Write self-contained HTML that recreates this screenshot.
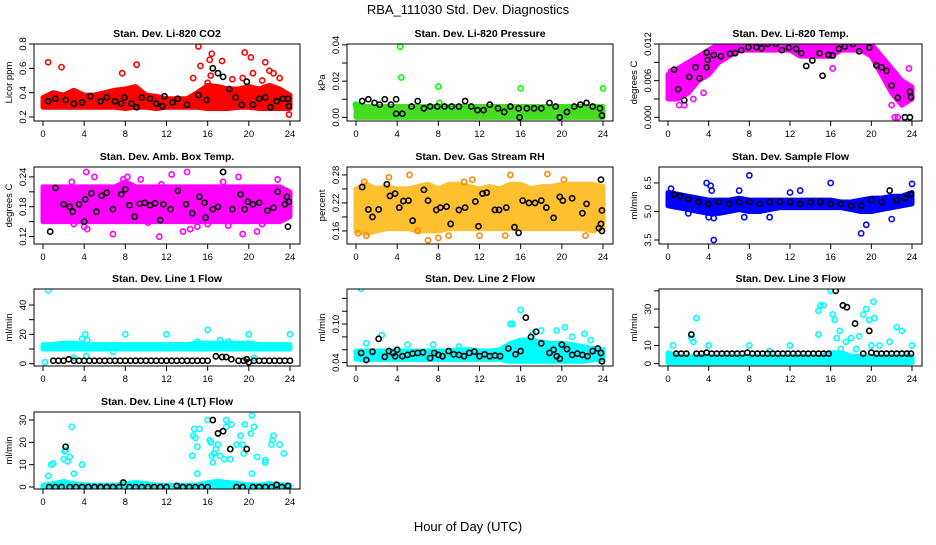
<!DOCTYPE html>
<html><head><meta charset="utf-8"><style>
body{margin:0;background:#fff;}
svg text{font-family:"Liberation Sans",sans-serif;}
</style></head><body>
<svg id="c" width="936" height="540" xmlns="http://www.w3.org/2000/svg">
<text x="468" y="14" text-anchor="middle" font-size="13">RBA_111030  Std. Dev. Diagnostics</text>
<text x="468" y="531" text-anchor="middle" font-size="13">Hour of Day (UTC)</text>
</svg>
<script>
const hours = [0,1,2,3,4,5,6,7,8,9,10,11,12,13,14,15,16,17,18,19,20,21,22,23,24];
const xTicks = [0,4,8,12,16,20,24];

// P1 CO2
const co2BandLo = [0.28,0.28,0.28,0.28,0.28,0.28,0.28,0.28,0.27,0.28,0.28,0.27,0.28,0.28,0.28,0.28,0.27,0.27,0.27,0.28,0.28,0.27,0.27,0.27,0.27];
const co2BandHi = [0.36,0.40,0.38,0.42,0.38,0.38,0.40,0.42,0.43,0.45,0.38,0.37,0.35,0.35,0.35,0.40,0.46,0.45,0.43,0.43,0.45,0.43,0.46,0.43,0.38];
const co2Out = [[0.5,0.65],[1.8,0.61],[7.7,0.56],[9.1,0.63],[15.1,0.78],[15.3,0.62],[16.2,0.67],[16.4,0.72],[17.4,0.66],[19.6,0.73],[20.2,0.69],[20.4,0.56],[21.6,0.65],[22.0,0.58],[22.4,0.56],[23.0,0.52],[23.9,0.22],[16.0,0.48],[16.3,0.54],[14.6,0.52],[18.4,0.51],[19.4,0.52],[21.3,0.5]];
const co2Black = [[0.5,0.33],[1.2,0.35],[2.2,0.34],[3.0,0.31],[3.8,0.32],[4.6,0.37],[5.6,0.33],[6.2,0.36],[7.0,0.33],[7.6,0.31],[7.9,0.36],[8.6,0.31],[9.1,0.28],[9.6,0.36],[10.4,0.35],[11.0,0.31],[11.6,0.29],[11.8,0.37],[12.6,0.32],[13.1,0.35],[14.0,0.30],[15.1,0.38],[15.9,0.34],[16.5,0.6],[17.0,0.56],[17.5,0.53],[18.1,0.43],[18.7,0.36],[19.3,0.30],[19.8,0.49],[20.4,0.30],[21.0,0.35],[21.6,0.36],[22.1,0.28],[22.7,0.33],[23.3,0.35],[23.8,0.35],[23.9,0.29]];
// P2 pressure
const presBandLo = [0,0,0,0,0,0,0,0,0,0,0,0,0,0,0,0,0,0,0,0,0,0,0,0,0];
const presBandHi = [0.007,0.006,0.006,0.006,0.006,0.006,0.006,0.006,0.006,0.006,0.006,0.006,0.006,0.006,0.006,0.006,0.006,0.006,0.006,0.006,0.006,0.006,0.006,0.006,0.006];
const presOut = [[4.3,0.039],[4.4,0.022],[8.0,0.017],[16.0,0.016],[24,0.016],[0,0.007],[8.1,0.008]];
const presBlack = [[0.6,0.009],[1.2,0.010],[1.8,0.008],[2.3,0.007],[2.8,0.010],[3.4,0.007],[3.9,0.010],[3.9,0.002],[4.5,0.002],[5.4,0.006],[6.0,0.009],[6.6,0.005],[7.2,0.006],[7.9,0.006],[8.6,0.006],[9.3,0.006],[10.0,0.006],[10.6,0.009],[11.2,0.006],[11.8,0.004],[12.4,0.004],[13.0,0.007],[13.8,0.005],[14.4,0.003],[15.0,0.006],[15.8,0.005],[15.9,0.000],[16.6,0.005],[17.3,0.005],[18.0,0.005],[18.8,0.008],[19.4,0.006],[19.8,0.000],[20.5,0.003],[21.2,0.006],[21.8,0.007],[22.4,0.008],[23.0,0.006],[23.7,0.005],[23.9,0.001]];
// P3 Li-820 temp
const tempBandLo = [0.003,0.003,0.004,0.006,0.007,0.009,0.010,0.011,0.011,0.011,0.011,0.011,0.011,0.010,0.010,0.010,0.010,0.011,0.011,0.011,0.010,0.007,0.004,0.002,0.003];
const tempBandHi = [0.007,0.008,0.009,0.010,0.011,0.012,0.012,0.012,0.012,0.012,0.012,0.012,0.012,0.012,0.012,0.012,0.012,0.012,0.012,0.012,0.012,0.010,0.008,0.006,0.005];
const tempOut = [[1.1,0.002],[1.6,0.002],[2.5,0.003],[3.5,0.004],[16.2,0.008],[22.3,0.0],[22.6,0.0],[23.7,0.008],[22.0,0.002],[23.3,0.004],[0.3,0.0075]];
const tempBlack = [[0.6,0.0078],[1.0,0.0046],[1.6,0.0028],[2.1,0.0066],[2.7,0.0082],[3.1,0.0064],[3.8,0.0106],[3.9,0.0094],[3.8,0.0082],[4.5,0.0102],[5.2,0.010],[6.1,0.0104],[6.6,0.0105],[7.2,0.011],[7.9,0.0115],[8.7,0.0115],[9.2,0.0113],[9.8,0.012],[10.6,0.012],[11.2,0.011],[11.9,0.0114],[12.6,0.0112],[13.1,0.0105],[13.6,0.0084],[14.2,0.0093],[14.9,0.0105],[15.2,0.0068],[15.8,0.0102],[16.2,0.0101],[16.8,0.0112],[17.4,0.0116],[18.2,0.012],[18.8,0.0108],[19.8,0.0114],[20.5,0.0085],[21.0,0.0082],[21.5,0.0076],[22.0,0.0052],[22.6,0.0032],[23.3,0.0],[23.8,0.0],[23.8,0.0042],[23.9,0.0033]];
// P4 amb box temp
const ambBandLo = [0.15,0.15,0.15,0.15,0.15,0.15,0.15,0.15,0.15,0.15,0.15,0.15,0.15,0.15,0.15,0.15,0.15,0.15,0.15,0.15,0.15,0.15,0.15,0.15,0.16];
const ambBandHi = [0.22,0.22,0.22,0.22,0.22,0.22,0.22,0.22,0.23,0.22,0.22,0.22,0.22,0.22,0.22,0.22,0.22,0.22,0.22,0.22,0.22,0.22,0.22,0.22,0.21];
const ambOut = [[0.3,0.205],[1.2,0.21],[2.8,0.23],[4.2,0.25],[4.3,0.135],[4.0,0.14],[6.8,0.125],[7.8,0.235],[8.2,0.24],[9.5,0.235],[11.3,0.12],[11.5,0.225],[12.5,0.245],[13.6,0.13],[14.3,0.135],[15.0,0.14],[17.5,0.23],[19.0,0.24],[19.4,0.125],[20.8,0.13],[22.8,0.235],[21.3,0.145],[3.0,0.145],[10.2,0.148],[16.0,0.145],[18.0,0.142],[5.0,0.24],[14.0,0.25]];
const ambBlack = [[0.7,0.13],[1.2,0.218],[2.0,0.185],[2.6,0.18],[2.9,0.17],[3.5,0.185],[4.0,0.15],[4.1,0.195],[4.7,0.207],[5.2,0.17],[5.7,0.202],[6.2,0.208],[6.8,0.175],[7.6,0.205],[8.0,0.215],[8.4,0.183],[8.9,0.16],[9.4,0.186],[9.9,0.188],[10.4,0.183],[10.9,0.187],[11.4,0.153],[11.7,0.185],[12.4,0.175],[13.1,0.212],[13.9,0.185],[14.5,0.167],[15.2,0.2],[15.7,0.188],[15.8,0.158],[16.5,0.175],[17.0,0.18],[17.5,0.25],[18.4,0.175],[19.2,0.205],[19.6,0.175],[19.9,0.19],[20.4,0.185],[21.0,0.188],[21.8,0.172],[22.4,0.178],[22.8,0.21],[23.5,0.185],[23.7,0.2],[23.8,0.14],[23.9,0.19]];
// P5 RH
const rhBandLo = [0.16,0.155,0.16,0.165,0.165,0.165,0.16,0.16,0.16,0.165,0.165,0.165,0.165,0.165,0.165,0.165,0.165,0.165,0.165,0.165,0.165,0.165,0.165,0.16,0.165];
const rhBandHi = [0.25,0.26,0.25,0.255,0.25,0.25,0.255,0.26,0.25,0.26,0.26,0.255,0.25,0.255,0.25,0.26,0.26,0.25,0.255,0.255,0.26,0.26,0.26,0.26,0.255];
const rhOut = [[0.2,0.155],[1.0,0.15],[3.2,0.275],[5.2,0.28],[7.0,0.14],[8.0,0.145],[9.0,0.15],[10.5,0.265],[11.3,0.27],[15.0,0.28],[18.6,0.282],[20.2,0.27],[12.0,0.15],[14.5,0.15],[22.3,0.15],[6.0,0.16],[0.8,0.265]];
const rhBlack = [[0.6,0.254],[1.2,0.206],[1.6,0.19],[2.2,0.206],[3.0,0.26],[3.3,0.235],[3.8,0.24],[4.2,0.21],[4.6,0.224],[5.1,0.225],[5.5,0.182],[6.6,0.248],[7.0,0.225],[7.8,0.205],[8.2,0.21],[8.8,0.212],[9.2,0.175],[10.0,0.205],[10.6,0.21],[11.6,0.223],[11.9,0.17],[12.3,0.24],[12.7,0.242],[13.5,0.205],[13.9,0.205],[14.6,0.21],[15.4,0.168],[15.8,0.156],[16.2,0.225],[16.8,0.22],[17.4,0.22],[18.0,0.225],[18.5,0.21],[19.2,0.188],[19.8,0.233],[20.1,0.225],[21.0,0.23],[22.0,0.198],[22.4,0.218],[23.6,0.166],[23.9,0.16],[23.8,0.27],[23.9,0.204],[23.8,0.175]];
// P6 sample flow
const sfBandLo = [5.3,5.2,5.1,5.0,4.9,4.9,5.0,5.1,5.0,5.0,5.1,5.2,5.2,5.2,5.2,5.2,5.2,5.2,5.1,5.0,5.0,5.1,5.2,5.3,5.4];
const sfBandHi = [6.0,5.9,5.8,5.7,5.6,5.6,5.6,5.7,5.6,5.6,5.6,5.6,5.6,5.6,5.6,5.6,5.6,5.5,5.5,5.6,5.7,5.7,5.8,5.8,6.0];
const sfOut = [[0.3,6.2],[3.8,6.5],[4.2,6.35],[4.3,6.1],[4.5,3.5],[7.0,6.1],[8.0,6.9],[16.0,6.5],[24,6.45],[19.0,3.85],[19.5,4.3],[4.0,4.7],[4.5,4.65],[7.5,4.7],[2.0,4.9],[22.0,4.6],[12.0,6.0],[13.0,6.1],[10.0,4.7]];
const sfBlack = [[0.6,5.9],[1.2,5.8],[2.0,5.65],[3.0,5.5],[4.0,5.4],[5.0,5.5],[6.0,5.4],[7.0,5.5],[8.0,5.5],[9.0,5.4],[10.0,5.5],[11.0,5.5],[12.0,5.5],[13.0,5.4],[14.0,5.5],[15.0,5.5],[16.0,5.4],[17.0,5.4],[18.0,5.3],[19.0,5.3],[20.0,5.6],[21.0,5.5],[21.8,6.1],[22.5,5.6],[23.3,5.7],[23.9,5.9]];
// P7 line 1
const l1BandLo = [10,10,10,10,10,10,10,10,10,10,10,10,10,10,10,10,10,10,10,10,10,10,10,10,10];
const l1BandHi = [13,13,14,14,13,13,13,13,13,13,13,13,13,13,13,14,14,14,14,14,14,13,13,13,13];
const l1Out = [[0.5,50],[3.8,17],[4.1,20],[4.3,16],[8,20],[12,20],[16,23],[17.2,16],[20,20],[24,20],[4.2,5],[3.0,4],[6.8,8],[15.0,15],[18,15],[20.5,4],[0.2,1]];
const l1Black = [[1,2],[1.5,2],[2,2],[2.5,3],[3,2],[3.5,2],[4,2],[4.5,2],[5,2],[5.5,2],[6,2],[6.5,2],[7,2],[7.5,2],[8,2],[8.5,2],[9,2],[9.5,2],[10,2],[10.5,2],[11,2],[11.5,2],[12,2],[12.5,2],[13,2],[13.5,2],[14,2],[14.5,2],[15,2],[15.5,2],[16,2],[16.8,5],[17.4,4.5],[17.8,4.5],[18.3,3],[19,2],[19.5,2],[19.8,3],[20,1],[20.5,2],[21,2],[21.5,2],[22,2],[22.5,2],[23,2],[23.5,2],[24,2]];
// P8 line 2
const l2BandLo = [0.045,0.045,0.045,0.045,0.045,0.045,0.045,0.045,0.045,0.045,0.045,0.045,0.045,0.045,0.045,0.042,0.042,0.042,0.042,0.042,0.042,0.042,0.042,0.044,0.045];
const l2BandHi = [0.058,0.058,0.058,0.058,0.058,0.058,0.058,0.058,0.058,0.058,0.060,0.060,0.058,0.058,0.060,0.070,0.075,0.075,0.072,0.070,0.070,0.068,0.065,0.062,0.060];
const l2Out = [[0.5,0.155],[2.5,0.083],[15.0,0.1],[15.2,0.1],[16.0,0.122],[17.2,0.085],[18.0,0.09],[19.5,0.09],[20.3,0.095],[21.0,0.08],[22.2,0.085],[22.8,0.075],[1.0,0.07],[5.0,0.068],[7.5,0.068],[10.0,0.065]];
const l2Black = [[0.5,0.055],[1.0,0.044],[1.6,0.057],[2.2,0.077],[2.8,0.049],[3.2,0.058],[3.6,0.055],[3.8,0.05],[4.0,0.06],[4.5,0.05],[5.0,0.052],[5.5,0.054],[6.0,0.055],[6.5,0.056],[7.2,0.047],[7.6,0.055],[8.0,0.052],[8.4,0.05],[9.0,0.058],[9.5,0.053],[10.0,0.052],[10.5,0.05],[11.0,0.055],[11.5,0.057],[12.0,0.05],[12.5,0.053],[13.0,0.05],[13.5,0.051],[14.0,0.05],[14.8,0.062],[15.5,0.053],[16.0,0.058],[16.5,0.11],[17.0,0.08],[17.5,0.088],[18.0,0.07],[18.8,0.055],[19.2,0.06],[19.5,0.05],[19.8,0.046],[20.0,0.068],[20.5,0.061],[21.0,0.052],[21.5,0.054],[22.0,0.052],[22.5,0.05],[23.0,0.058],[23.5,0.062],[23.8,0.055],[23.9,0.042]];
// P9 line 3
const l3BandLo = [0.5,0.5,0.5,0.5,0.5,0.5,0.5,0.5,0.5,0.5,0.5,0.5,0.5,0.5,0.5,0.5,0.5,0.5,0.5,0.5,0.5,0.5,0.5,0.5,0.5];
const l3BandHi = [6,4,4,4,4,4,4,4,4,4,4,4,4,4,4,4,6,6,4,4,4,4,4,4,4];
const l3Out = [[0.5,10],[2.3,14],[2.5,12],[2.8,25],[4.0,10],[8.0,10],[12.0,10],[14.8,16],[14.8,29],[15.0,32],[15.3,32],[16.0,40],[16.2,27],[16.4,24],[16.6,14],[16.9,18],[17.0,8],[17.5,12],[18.0,14],[18.5,8],[18.8,15],[19.2,27],[19.5,30],[19.8,24],[20.0,10],[20.2,34],[20.3,25],[20.8,10],[21.8,12],[22.5,20],[23.0,18],[24,10],[3.5,4],[10,7]];
const l3Black = [[0.8,5.5],[1.3,5.5],[1.8,5.5],[2.3,16],[2.8,5.5],[3.3,5.5],[3.8,6],[4.3,5.5],[4.8,5.5],[5.3,5.5],[5.8,5.5],[6.3,5.5],[6.8,5.5],[7.3,5.5],[7.8,6],[8.3,5.5],[8.8,5.5],[9.3,5.5],[9.8,5.5],[10.3,5.5],[10.8,5.5],[11.3,5.5],[11.8,5.5],[12.3,5.5],[12.8,5.5],[13.3,5.5],[13.8,5.5],[14.3,5.5],[14.8,5.5],[15.3,5.5],[15.8,5.5],[16.5,40],[17.2,32],[17.6,31],[18.4,22],[19.8,18],[19.2,5.5],[20.0,6],[20.5,5.5],[21.0,5.5],[21.5,5.5],[22.0,5.5],[22.5,5.5],[23.0,5.5],[23.5,5.5],[23.9,5.5]];
// P10 line 4 (LT)
const l4BandLo = [-0.5,-0.5,-0.5,-0.5,-0.5,-0.5,-0.5,-0.5,-0.5,-0.5,-0.5,-0.5,-0.5,-0.5,-0.5,-0.5,-0.5,-0.5,-0.5,-0.5,-0.5,-0.5,-0.5,-0.5,-0.5];
const l4BandHi = [0.8,1.5,2.5,1.5,1,0.8,0.8,0.8,1.5,2,1.5,0.8,0.8,0.8,0.8,0.8,2,2.5,2,1.5,1,0.8,1.5,1,0.8];
const l4Out = [[0.5,5],[0.8,10],[1.0,10.5],[2.0,12.5],[2.1,16],[2.2,16.5],[2.4,11.5],[2.6,13.5],[2.8,27],[3.0,6],[3.8,10],[14.5,14],[14.6,23],[14.7,26],[14.8,22],[15.0,18],[15.2,26],[15.0,6],[16.0,30],[16.2,21],[16.3,20],[16.4,14],[16.5,11],[16.6,15],[16.8,17],[17.0,19],[17.2,14],[17.6,12.5],[17.8,30],[17.8,27],[18.2,12.5],[18.3,28],[18.8,19],[19.2,23],[19.4,19],[19.5,15],[19.6,28],[20.2,24],[20.3,32],[20.5,27],[20.3,6],[20.8,13.5],[21.6,12],[21.6,11],[22.2,19],[22.3,21],[22.4,23],[23.0,19],[23.4,15]];
const l4Black = [[0.6,0],[1.2,0],[1.8,0],[2.2,18],[2.6,0],[3.2,0],[3.8,0],[4.4,0],[5.0,0],[5.6,0],[6.2,0],[6.8,0],[7.4,0],[7.8,2],[8.4,0],[9.0,0],[9.6,0],[10.2,0],[10.8,0],[11.4,0],[12.0,0],[13.0,0.5],[13.6,0],[14.2,0],[14.8,0],[15.4,0],[16.0,0],[16.5,30],[17.0,24],[17.5,25],[18.2,17],[18.8,0],[19.4,0],[19.8,17],[20.4,0],[21.0,0],[21.6,0],[22.2,0],[22.7,1],[23.2,0],[23.8,0.5]];

const cols = [[34,300],[347,613],[659,922]];
const rowTop = [44,167,289,412];
const H = 77;
const panels = [
 {name:'co2',title:'Stan. Dev. Li-820 CO2',ylab:'Licor ppm',lo:0.167,hi:0.8,ticks:[0.2,0.4,0.6,0.8],labels:['0.2','0.4','0.6','0.8'],col:'#ff0000',band:'#ff0000',bl:co2BandLo,bh:co2BandHi,out:co2Out,blk:co2Black},
 {name:'pressure',title:'Stan. Dev. Li-820 Pressure',ylab:'kPa',lo:-0.002,hi:0.0405,ticks:[0,0.01,0.02,0.03,0.04],labels:['0.00','','0.02','','0.04'],col:'#00ff00',band:'#44dd22',bl:presBandLo,bh:presBandHi,out:presOut,blk:presBlack},
 {name:'li820-temp',title:'Stan. Dev. Li-820 Temp.',ylab:'degrees C',lo:-0.0006,hi:0.012,ticks:[0,0.003,0.006,0.009,0.012],labels:['0.000','','0.006','','0.012'],col:'#ff00ff',band:'#ff00ff',bl:tempBandLo,bh:tempBandHi,out:tempOut,blk:tempBlack},
 {name:'amb-box-temp',title:'Stan. Dev. Amb. Box Temp.',ylab:'degrees C',lo:0.105,hi:0.26,ticks:[0.12,0.15,0.18,0.21,0.24],labels:['0.12','','0.18','','0.24'],col:'#ff00ff',band:'#ff00ff',bl:ambBandLo,bh:ambBandHi,out:ambOut,blk:ambBlack},
 {name:'gas-stream-rh',title:'Stan. Dev. Gas Stream RH',ylab:'percent',lo:0.132,hi:0.297,ticks:[0.16,0.19,0.22,0.25,0.28],labels:['0.16','','0.22','','0.28'],col:'#ff8800',band:'#ffc030',bl:rhBandLo,bh:rhBandHi,out:rhOut,blk:rhBlack},
 {name:'sample-flow',title:'Stan. Dev. Sample Flow',ylab:'ml/min',lo:3.29,hi:7.34,ticks:[3.5,5.0,6.5],labels:['3.5','5.0','6.5'],col:'#0000ff',band:'#0000ff',bl:sfBandLo,bh:sfBandHi,out:sfOut,blk:sfBlack},
 {name:'line1-flow',title:'Stan. Dev. Line 1 Flow',ylab:'ml/min',lo:-1.6,hi:50.9,ticks:[0,10,20,30,40],labels:['0','','20','','40'],col:'#00ffff',band:'#00ffff',bl:l1BandLo,bh:l1BandHi,out:l1Out,blk:l1Black},
 {name:'line2-flow',title:'Stan. Dev. Line 2 Flow',ylab:'ml/min',lo:0.0347,hi:0.1546,ticks:[0.04,0.06,0.08,0.10,0.12,0.14],labels:['0.04','','','0.10','',''],col:'#00ffff',band:'#00ffff',bl:l2BandLo,bh:l2BandHi,out:l2Out,blk:l2Black},
 {name:'line3-flow',title:'Stan. Dev. Line 3 Flow',ylab:'ml/min',lo:-1.3,hi:41,ticks:[0,10,20,30,40],labels:['0','10','','30',''],col:'#00ffff',band:'#00ffff',bl:l3BandLo,bh:l3BandHi,out:l3Out,blk:l3Black},
 {name:'line4-flow',title:'Stan. Dev. Line 4 (LT) Flow',ylab:'ml/min',lo:-0.9,hi:33.6,ticks:[0,10,20,30],labels:['0','10','20','30'],col:'#00ffff',band:'#00ffff',bl:l4BandLo,bh:l4BandHi,out:l4Out,blk:l4Black}
];
const svg = document.getElementById('c');
const NS = 'http://www.w3.org/2000/svg';
function mk(tag, attrs, parent){const e=document.createElementNS(NS,tag);for(const k in attrs)e.setAttribute(k,attrs[k]);(parent||svg).appendChild(e);return e;}
panels.forEach((p,i)=>{
  const c = i%3, r = Math.floor(i/3);
  const L = cols[c][0], R = cols[c][1], T = rowTop[r], B = T+H;
  const x0 = L+9, x1 = R-10;
  const xs = v => x0 + (v/24)*(x1-x0);
  const ys = v => B - (v-p.lo)/(p.hi-p.lo)*H;
  const g = mk('g',{});
  
  
  const t = mk('text',{x:(L+R)/2,y:T-7,'text-anchor':'middle','font-size':10.5,'font-weight':'bold'},g);
  t.textContent = p.title;
  
  
  const clip = mk('clipPath',{id:'cl'+i},g);
  mk('rect',{x:L,y:T,width:R-L,height:H},clip);
  const pg = mk('g',{'clip-path':'url(#cl'+i+')'},g);
  let pts = hours.map((h,k)=>xs(h)+','+ys(p.bh[k]));
  pts = pts.concat(hours.slice().reverse().map((h,k)=>xs(h)+','+ys(p.bl[hours.length-1-k])));
  const band = mk('polygon',{points:pts.join(' '),fill:p.band,stroke:p.band,'stroke-width':5,'stroke-linejoin':'round'},pg);
  
  
  p.out.forEach(d=>{
    const e = mk('circle',{cx:xs(d[0]),cy:ys(d[1]),r:2.6,fill:'none',stroke:p.col,'stroke-width':1.6},pg);
    
    
  });
  p.blk.forEach(d=>{
    const e = mk('circle',{cx:xs(d[0]),cy:ys(d[1]),r:2.6,fill:'none',stroke:'#000','stroke-width':1.6},pg);
    
    
  });
  const box = mk('rect',{x:L,y:T,width:R-L,height:H,fill:'none',stroke:'#000','stroke-width':1},g);
  
  
  mk('line',{x1:xs(0),x2:xs(24),y1:B,y2:B,stroke:'#000'},g);
  xTicks.forEach(v=>{
    mk('line',{x1:xs(v),x2:xs(v),y1:B,y2:B+5,stroke:'#000'},g);
    const tl = mk('text',{x:xs(v),y:B+16,'text-anchor':'middle','font-size':9.5},g);
    tl.textContent = v;
    
    
  });
  p.ticks.forEach((v,k)=>{
    const y = ys(v);
    mk('line',{x1:L-5,x2:L,y1:y,y2:y,stroke:'#000'},g);
    if(p.labels[k]){
      const tl = mk('text',{x:L-8,y:y,'text-anchor':'middle','font-size':9.5,transform:'rotate(-90 '+(L-8)+' '+y+')'},g);
      tl.textContent = p.labels[k];
      
      
    }
  });
  const yt = mk('text',{x:L-22,y:(T+B)/2,'text-anchor':'middle','font-size':9.5,transform:'rotate(-90 '+(L-22)+' '+((T+B)/2)+')'},g);
  yt.textContent = p.ylab;
  
  
});
</script>
</body></html>
